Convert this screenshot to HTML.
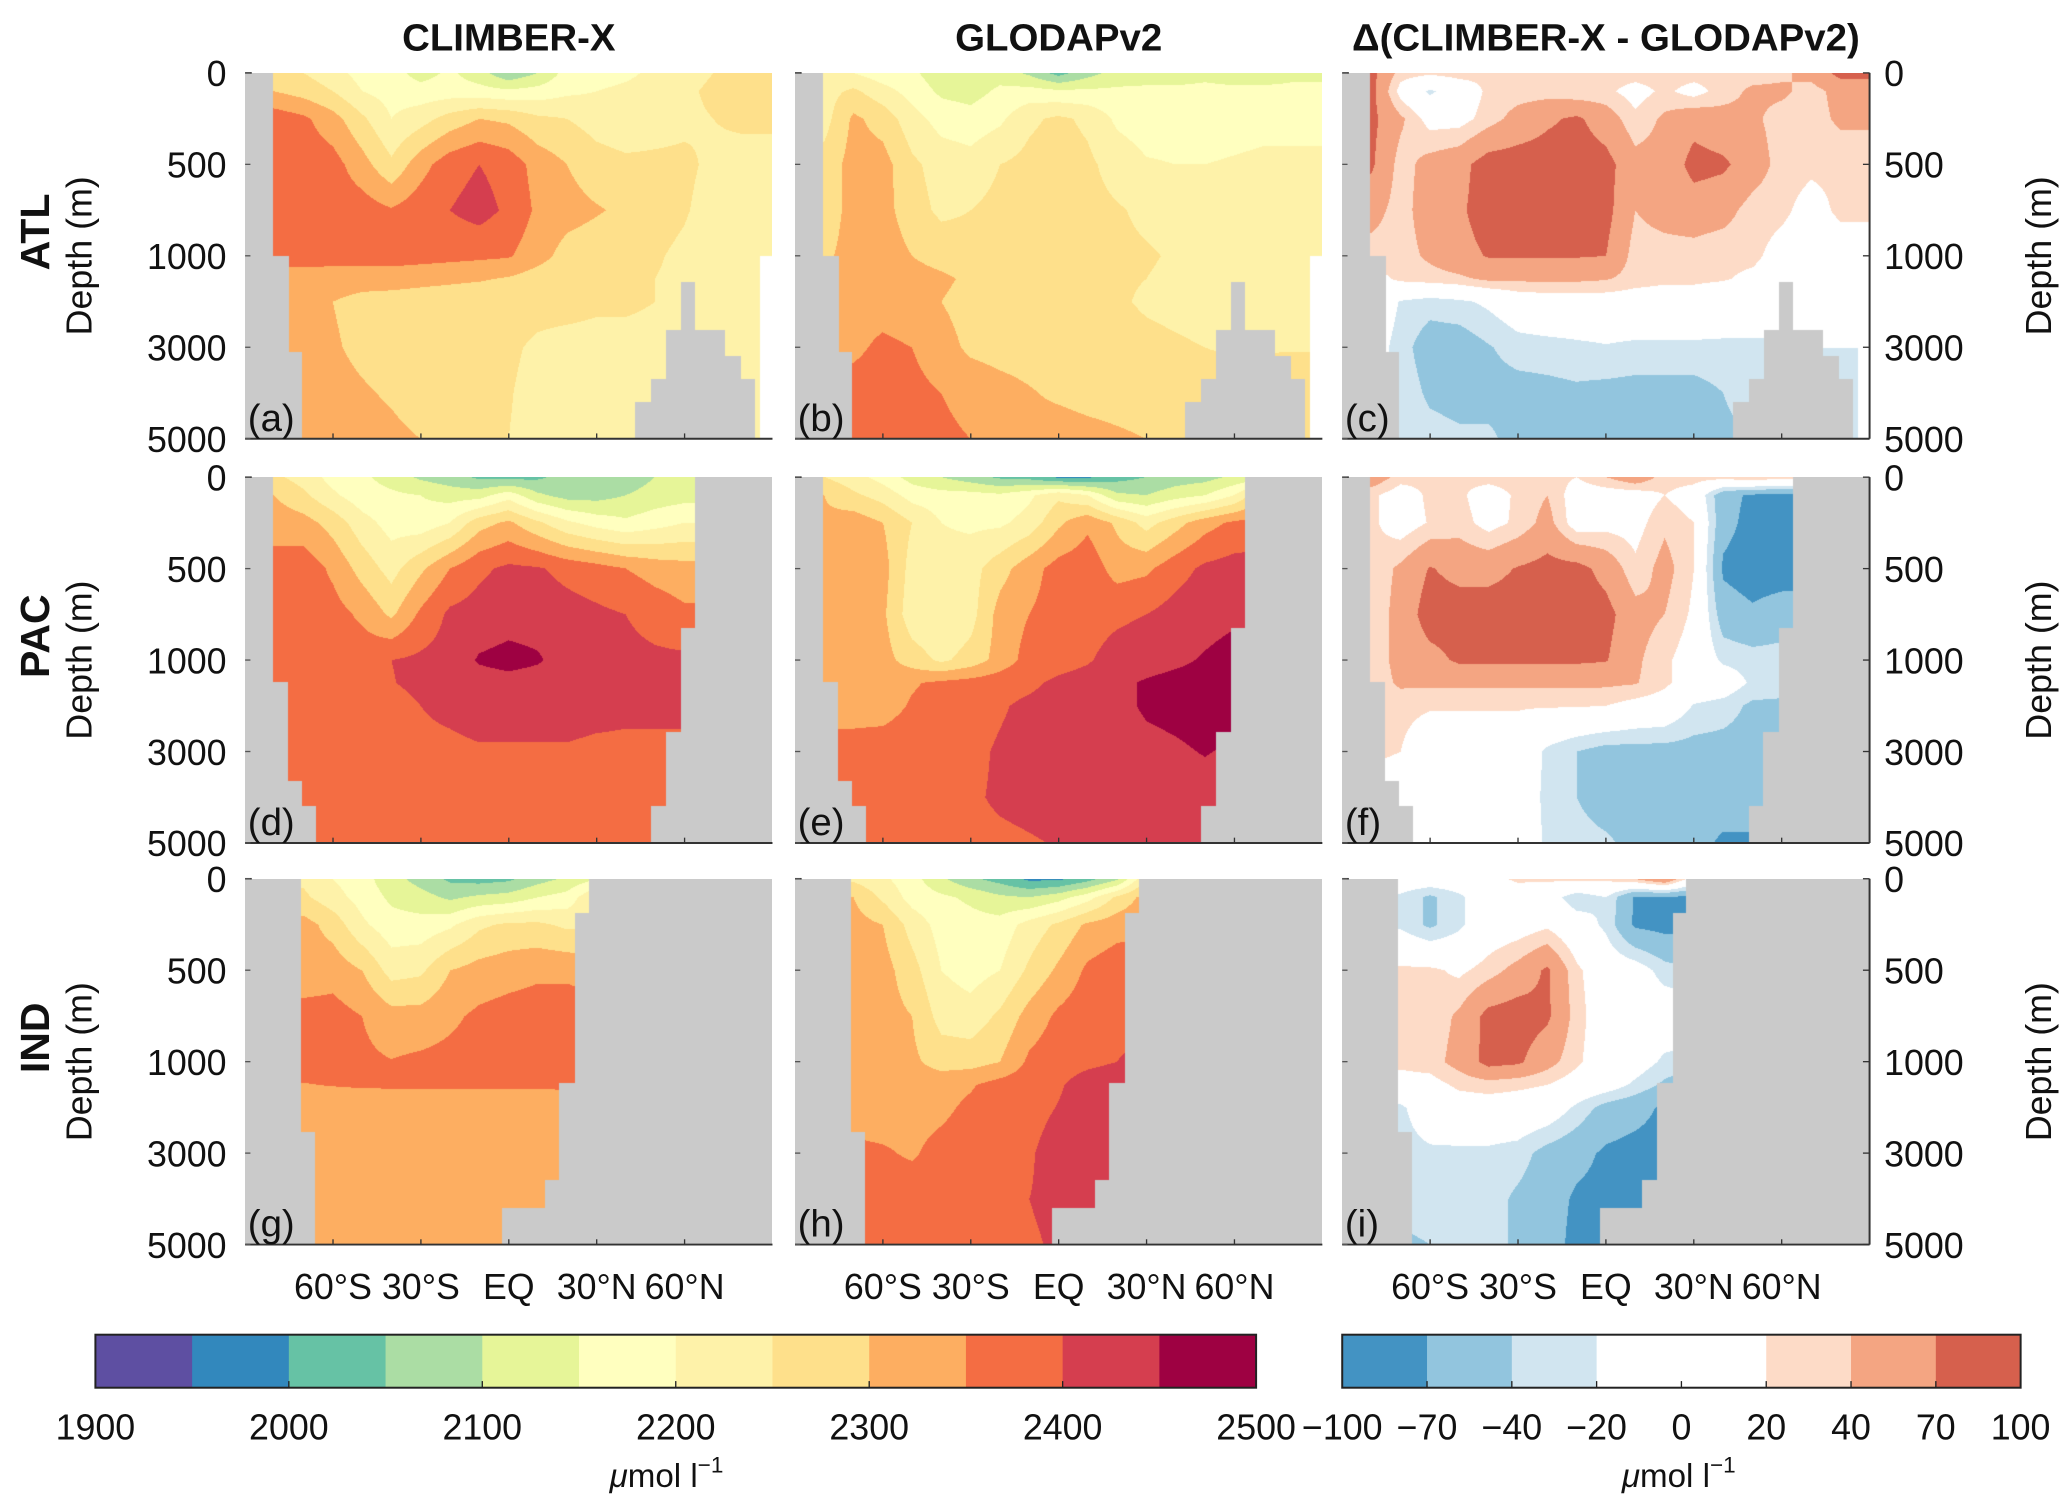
<!DOCTYPE html>
<html><head><meta charset="utf-8">
<style>
html,body{margin:0;padding:0;background:#fff;}
#fig{position:relative;width:2067px;height:1507px;overflow:hidden;background:#fff;}
canvas{position:absolute;}
svg{position:absolute;left:0;top:0;}
text{font-family:"Liberation Sans",sans-serif;fill:#111;}
</style></head>
<body>
<div id="fig">
<svg id="ov" width="2067" height="1507" viewBox="0 0 1560 1137" preserveAspectRatio="none"></svg>
</div>
<script>
// ---------- data ----------
const DEPTHS=[0,100,250,500,750,1000,1500,2000,3000,4000,5000];
const LATS_AP=[-80,-70,-60,-50,-40,-30,-20,-10,0,10,20,30,40,50,60,70,80];
const LATS_IND=[-70,-60,-50,-40,-30,-20,-10,0,10,20,30];
const DEPTH_TICKS=[0,500,1000,3000,5000];
const LAT_TICKS=[-60,-30,0,30,60];
const LAT_LABELS=["60°S","30°S","EQ","30°N","60°N"];
const CB1_BOUNDS=[1900,1950,2000,2050,2100,2150,2200,2250,2300,2350,2400,2450,2500];
const CB1_COLORS=["#5e4fa2","#3288bd","#66c2a5","#abdda4","#e6f598","#ffffbf","#fef2a9","#fee08b","#fdae61","#f46d43","#d53e4f","#9e0142"];
const CB1_LABELS=[1900,2000,2100,2200,2300,2400,2500];
const CB2_BOUNDS=[-100,-70,-40,-20,20,40,70,100];
const CB2_COLORS=["#4393c3","#92c5de","#d1e5f0","#ffffff","#fddbc7","#f4a582","#d6604d"];
const CB2_LABELS=[-100,-70,-40,-20,0,20,40,70,100];

const atlModel=[
[2280,2250,2220,2180,2170,2130,2160,2120,2060,2100,2170,2180,2190,2210,2230,2250,2270],
[2300,2280,2250,2200,2180,2170,2175,2170,2160,2170,2190,2200,2210,2220,2240,2260,2270],
[2380,2360,2320,2260,2200,2230,2270,2300,2290,2260,2250,2230,2220,2230,2240,2250,2260],
[2380,2380,2370,2320,2260,2330,2380,2400,2380,2330,2300,2270,2260,2260,2260,2240,2230],
[2380,2380,2380,2375,2355,2380,2400,2420,2390,2340,2320,2305,2290,2270,2255,2230,2250],
[2370,2370,2370,2375,2375,2370,2365,2360,2355,2320,2280,2270,2260,2255,2240,2220,2220],
[2330,2330,2325,2320,2320,2315,2310,2305,2295,2275,2265,2260,2255,2250,2240,2225,2225],
[2320,2310,2300,2285,2280,2275,2270,2265,2265,2260,2260,2255,2255,2250,2240,2230,2230],
[2320,2315,2305,2290,2280,2275,2270,2260,2255,2245,2240,2240,2240,2240,2240,2240,2240],
[2320,2320,2315,2305,2295,2280,2270,2260,2252,2240,2235,2235,2235,2235,2235,2235,2235],
[2320,2320,2320,2315,2310,2300,2280,2265,2250,2240,2235,2235,2235,2235,2235,2235,2235]];
const atlObs=[
[2220,2200,2170,2160,2120,2110,2130,2090,2030,2080,2120,2130,2130,2140,2130,2110,2130],
[2230,2260,2220,2180,2140,2130,2160,2170,2160,2160,2160,2160,2160,2160,2160,2170,2170],
[2230,2310,2280,2220,2180,2170,2190,2240,2260,2240,2190,2175,2175,2175,2180,2185,2185],
[2270,2320,2320,2260,2230,2220,2250,2265,2275,2260,2230,2205,2200,2200,2205,2210,2210],
[2270,2320,2320,2270,2240,2250,2265,2270,2275,2265,2255,2240,2230,2230,2230,2230,2230],
[2290,2320,2330,2300,2280,2270,2265,2265,2265,2265,2260,2255,2245,2235,2230,2230,2230],
[2310,2330,2330,2320,2310,2290,2270,2265,2260,2255,2255,2250,2240,2235,2230,2230,2230],
[2320,2330,2330,2320,2300,2280,2275,2270,2265,2260,2255,2245,2240,2235,2235,2235,2235],
[2340,2340,2360,2350,2320,2290,2280,2275,2270,2270,2265,2260,2255,2250,2245,2245,2245],
[2350,2370,2375,2365,2350,2335,2320,2305,2290,2280,2275,2270,2270,2270,2275,2280,2300],
[2350,2370,2375,2370,2360,2350,2330,2320,2330,2320,2310,2300,2280,2270,2270,2270,2270]];
const atlDiff=[
[80,30,25,30,25,30,25,30,30,30,30,30,30,30,35,50,80],
[80,10,-25,0,25,30,30,25,25,10,25,10,30,45,45,30,50],
[78,45,10,10,30,50,65,75,55,25,45,60,50,45,30,30,45],
[75,30,50,60,85,85,85,85,80,50,50,80,75,55,30,25,25],
[50,30,55,65,85,85,85,85,80,40,50,55,50,30,25,10,25],
[30,30,45,60,72,72,72,72,70,30,30,30,25,25,10,5,5],
[10,25,30,35,45,45,45,45,42,30,25,25,22,15,5,5,5],
[5,-22,-30,-25,-15,0,5,5,5,5,5,5,0,0,-5,-5,-5],
[-5,-30,-55,-55,-42,-30,-28,-25,-22,-25,-25,-25,-25,-25,-25,-20,-20],
[-10,-25,-45,-50,-50,-50,-48,-45,-48,-50,-50,-50,-40,-30,-30,-25,-25],
[-10,-25,-30,-35,-35,-50,-50,-55,-65,-55,-50,-50,-45,-40,-30,-30,-30]];
const pacModel=[
[2260,2230,2180,2160,2130,2090,2070,2040,2030,2040,2070,2080,2070,2100,2110,2110,2110],
[2300,2260,2210,2170,2160,2150,2130,2130,2180,2110,2080,2080,2100,2120,2130,2130,2130],
[2330,2320,2280,2220,2180,2170,2200,2280,2310,2260,2210,2180,2160,2180,2200,2200,2200],
[2370,2380,2340,2280,2230,2290,2350,2390,2410,2405,2385,2370,2350,2330,2320,2320,2320],
[2380,2380,2370,2340,2290,2360,2410,2420,2430,2430,2420,2410,2400,2380,2360,2360,2360],
[2380,2380,2375,2380,2400,2410,2420,2455,2465,2455,2430,2420,2415,2410,2410,2410,2410],
[2380,2380,2380,2385,2398,2410,2420,2430,2435,2430,2425,2420,2420,2420,2410,2410,2410],
[2370,2370,2375,2380,2385,2400,2410,2420,2420,2420,2420,2415,2410,2410,2410,2410,2410],
[2380,2380,2385,2390,2390,2390,2390,2395,2395,2395,2395,2390,2390,2390,2390,2390,2390],
[2380,2380,2380,2380,2380,2380,2380,2380,2380,2380,2380,2380,2380,2380,2380,2380,2380],
[2380,2380,2380,2380,2380,2380,2380,2380,2380,2380,2380,2380,2380,2380,2380,2380,2380]];
const pacObs=[
[2250,2220,2180,2130,2100,2070,2040,2030,1990,1990,2030,2050,2070,2080,2110,2120,2120],
[2300,2260,2230,2180,2170,2170,2160,2190,2240,2200,2110,2100,2130,2150,2200,2300,2300],
[2310,2330,2300,2250,2200,2190,2190,2220,2290,2340,2290,2230,2280,2330,2360,2370,2370],
[2320,2320,2320,2230,2220,2230,2280,2330,2370,2380,2330,2340,2380,2410,2420,2420,2420],
[2320,2320,2310,2220,2200,2230,2320,2350,2370,2380,2390,2400,2420,2430,2440,2440,2440],
[2320,2320,2320,2275,2240,2270,2320,2370,2380,2395,2420,2430,2440,2455,2470,2470,2470],
[2320,2330,2330,2345,2360,2370,2380,2390,2410,2420,2440,2455,2465,2470,2470,2470,2470],
[2330,2330,2330,2355,2370,2380,2395,2410,2420,2430,2440,2455,2460,2465,2465,2465,2465],
[2370,2370,2375,2380,2385,2390,2405,2415,2420,2425,2430,2440,2445,2452,2445,2445,2445],
[2380,2380,2380,2385,2390,2395,2405,2410,2415,2420,2425,2430,2435,2435,2435,2435,2435],
[2380,2380,2380,2380,2385,2390,2393,2397,2402,2410,2420,2430,2430,2430,2430,2430,2430]];
const pacDiff=[
[60,30,25,25,30,30,30,20,40,60,30,30,30,40,30,30,30],
[25,5,25,25,5,25,40,5,5,5,20,5,-60,-75,-75,-75,-75],
[25,5,22,30,10,25,50,5,10,10,35,20,-60,-80,-80,-80,-80],
[25,45,72,60,60,72,80,80,60,25,50,20,-75,-85,-85,-85,-85],
[25,50,85,85,85,85,85,85,80,50,40,15,-55,-65,-55,-55,-55],
[25,50,60,75,75,75,75,75,72,45,25,5,-25,-30,-30,-30,-30],
[25,45,45,45,45,45,45,45,45,42,25,5,0,-25,-30,-30,-30],
[30,25,22,22,22,22,22,22,20,10,5,-22,-30,-45,-45,-45,-45],
[25,20,5,5,5,5,-25,-40,-50,-50,-50,-50,-50,-50,-50,-50,-50],
[5,5,5,5,5,5,-28,-40,-55,-55,-55,-55,-55,-55,-55,-55,-55],
[5,5,5,5,-10,5,-25,-30,-35,-50,-55,-60,-75,-75,-75,-75,-75]];
const indModel=[
[2240,2200,2170,2120,2080,2040,2030,2040,2080,2110,2150],
[2260,2220,2180,2140,2120,2090,2110,2120,2150,2170,2250],
[2320,2280,2210,2170,2170,2190,2240,2260,2260,2240,2240],
[2320,2330,2300,2230,2240,2300,2320,2330,2340,2340,2330],
[2370,2370,2350,2320,2320,2340,2360,2370,2375,2375,2370],
[2370,2370,2360,2352,2360,2365,2370,2370,2370,2370,2370],
[2348,2352,2355,2356,2356,2357,2357,2357,2357,2358,2358],
[2320,2320,2320,2320,2320,2320,2320,2320,2320,2320,2320],
[2320,2320,2320,2320,2320,2320,2320,2320,2320,2320,2320],
[2320,2320,2320,2320,2320,2320,2320,2320,2320,2320,2320],
[2320,2320,2320,2320,2320,2320,2320,2320,2320,2320,2320]];
const indObs=[
[2240,2210,2170,2110,2060,2030,1990,1990,2030,2090,2250],
[2300,2240,2180,2160,2140,2110,2100,2130,2180,2260,2320],
[2320,2300,2230,2180,2170,2170,2220,2260,2310,2330,2340],
[2320,2320,2270,2200,2180,2200,2260,2310,2360,2380,2380],
[2320,2320,2300,2230,2220,2260,2320,2360,2380,2390,2390],
[2320,2320,2310,2280,2280,2300,2360,2380,2390,2400,2410],
[2330,2330,2330,2330,2345,2370,2380,2395,2420,2430,2430],
[2330,2330,2335,2340,2360,2370,2385,2402,2420,2430,2430],
[2360,2355,2345,2365,2375,2385,2395,2420,2435,2455,2455],
[2370,2370,2375,2380,2385,2390,2400,2410,2420,2420,2420],
[2380,2380,2380,2380,2385,2390,2395,2405,2410,2410,2410]];
const indDiff=[
[0,0,0,10,25,25,25,25,40,70,0],
[-25,-45,-25,0,0,-5,-35,-20,-75,-75,-75],
[-25,-45,-25,0,5,15,-5,-25,-75,-80,-80],
[25,25,15,30,50,75,25,0,-5,-30,-40],
[25,25,45,80,85,75,30,0,0,0,0],
[25,30,50,80,75,50,25,0,-5,-25,-30],
[10,10,25,30,25,20,5,-5,-25,-45,-60],
[-25,0,5,5,5,0,-25,-50,-60,-75,-80],
[-30,-25,-25,-25,-30,-50,-60,-75,-80,-80,-80],
[-30,-30,-28,-30,-45,-55,-75,-80,-80,-80,-80],
[-45,-40,-30,-30,-45,-55,-80,-80,-80,-80,-80]];

// land masks [lat0, lat1, depthTop, depthBottom]
const atlLand=[[-90,-81,0,5000],[-81,-75.5,1000,5000],[-75.5,-71,3100,5000],[43.5,84,4200,5000],[49,84,3700,5000],[54,79,3200,5000],[54,73.5,2620,5000],[59,63.4,1580,5000]];
const atlBlank=[[86,90,1000,5000]];
const pacLand=[[-90,-81,0,5000],[-81,-75.8,1490,5000],[-75.8,-70.7,3650,5000],[-70.7,-66,4200,5000],[63.9,90,0,5000],[59,90,830,5000],[53.8,90,2580,5000],[49,90,4200,5000]];
const indLand=[[-90,-71.5,0,5000],[-71.5,-66.5,2550,5000],[27.5,90,0,5000],[23,90,190,5000],[17.5,90,1480,5000],[12.5,90,3600,5000],[-2,90,4200,5000]];

// ---------- layout (in 1560x1137 figure units) ----------
const SX=2067/1560, SY=1507/1137;
const COLX=[185,600,1013], PW=398, ROWY=[55,360,663], PH=276;
const NS="http://www.w3.org/2000/svg";
const ov=document.getElementById('ov');
const fig=document.getElementById('fig');

function dToU(d){return d<=1000? d/500 : 2+(d-1000)/2000;}
function latToX(lat,x0){return x0+(lat+90)/180*PW;}
function dToY(d,y0){return y0+dToU(d)/4*PH;}
function hex(c){return [parseInt(c.slice(1,3),16),parseInt(c.slice(3,5),16),parseInt(c.slice(5,7),16)];}

function renderPanel(col,row,lats,grid,land,blank,isDiff,name){
  const x0=COLX[col], y0=ROWY[row];
  const cv=document.createElement('canvas');
  
  
  const L=Math.round(x0*SX), T=Math.round(y0*SY);
  const W=Math.round((x0+PW)*SX)-L, H=Math.round((y0+PH)*SY)-T;
  cv.width=W; cv.height=H;
  cv.style.left=L+'px'; cv.style.top=T+'px'; cv.style.width=W+'px'; cv.style.height=H+'px';
  fig.insertBefore(cv, ov);
  const ctx=cv.getContext('2d');
  const img=ctx.createImageData(W,H);
  const bounds=isDiff?CB2_BOUNDS:CB1_BOUNDS, cols=(isDiff?CB2_COLORS:CB1_COLORS).map(hex);
  const du=DEPTHS.map(dToU);
  const nL=lats.length;
  for(let py=0;py<H;py++){
    const u=(py+0.5)/H*4;
    let k=0; while(k<du.length-2 && u>du[k+1]) k++;
    const fy=Math.max(0,Math.min(1,(u-du[k])/(du[k+1]-du[k])));
    for(let px=0;px<W;px++){
      let lat=-90+180*(px+0.5)/W;
      lat=Math.max(lats[0],Math.min(lats[nL-1],lat));
      let j=0; while(j<nL-2 && lat>lats[j+1]) j++;
      const fx=(lat-lats[j])/(lats[j+1]-lats[j]);
      const v=(grid[k][j]*(1-fx)+grid[k][j+1]*fx)*(1-fy)+(grid[k+1][j]*(1-fx)+grid[k+1][j+1]*fx)*fy;
      let ci=cols.length-1;
      if(v<bounds[1]) ci=0; else { for(let i=1;i<cols.length;i++){ if(v<bounds[i+1]){ci=i;break;} } }
      const c=cols[ci]; const o=(py*W+px)*4;
      img.data[o]=c[0];img.data[o+1]=c[1];img.data[o+2]=c[2];img.data[o+3]=255;
    }
  }
  ctx.putImageData(img,0,0);
  const fillRects=(rects,color)=>{
    ctx.fillStyle=color;
    rects.forEach(r=>{
      const a=(r[0]+90)/180*W, b=(r[1]+90)/180*W;
      const t=dToU(r[2])/4*H, bt=dToU(r[3])/4*H;
      ctx.fillRect(Math.floor(a),Math.floor(t),Math.ceil(b-a)+1,Math.ceil(bt-t)+1);
    });
  };
  if(blank) fillRects(blank,'#ffffff');
  fillRects(land,'#cacaca');
}

const panels=[
 [0,0,LATS_AP,atlModel,atlLand,atlBlank,false,'panel-a-atl-climber'],
 [1,0,LATS_AP,atlObs,atlLand,atlBlank,false,'panel-b-atl-glodap'],
 [2,0,LATS_AP,atlDiff,atlLand,atlBlank,true,'panel-c-atl-diff'],
 [0,1,LATS_AP,pacModel,pacLand,null,false,'panel-d-pac-climber'],
 [1,1,LATS_AP,pacObs,pacLand,null,false,'panel-e-pac-glodap'],
 [2,1,LATS_AP,pacDiff,pacLand,null,true,'panel-f-pac-diff'],
 [0,2,LATS_IND,indModel,indLand,null,false,'panel-g-ind-climber'],
 [1,2,LATS_IND,indObs,indLand,null,false,'panel-h-ind-glodap'],
 [2,2,LATS_IND,indDiff,indLand,null,true,'panel-i-ind-diff']];
panels.forEach(p=>renderPanel(...p));

// ---------- SVG overlay ----------
function el(tag,attrs,txt){const e=document.createElementNS(NS,tag);for(const k in attrs)e.setAttribute(k,attrs[k]);if(txt!==undefined)e.textContent=txt;ov.appendChild(e);return e;}
function txt(x,y,s,size,opts){
  return el('text',Object.assign({x:x,y:y,'font-size':size},opts||{}),s);
}

const titles=["CLIMBER-X","GLODAPv2","Δ(CLIMBER-X - GLODAPv2)"];
titles.forEach((t,i)=>{
  const e=txt(COLX[i]+PW/2,38,t,29,{'text-anchor':'middle','font-weight':'bold'});
  
  
});
const basins=["ATL","PAC","IND"];
const letters=[["(a)","(b)","(c)"],["(d)","(e)","(f)"],["(g)","(h)","(i)"]];
for(let r=0;r<3;r++){
  const y0=ROWY[r], cy=y0+PH/2;
  const b=txt(0,0,basins[r],31,{'text-anchor':'middle','font-weight':'bold',transform:`translate(37,${cy-18}) rotate(-90)`});
  
  
  const dl=txt(0,0,"Depth (m)",27,{'text-anchor':'middle',transform:`translate(69,${cy}) rotate(-90)`});
  
  
  const dr=txt(0,0,"Depth (m)",27,{'text-anchor':'middle',transform:`translate(1548,${cy}) rotate(-90)`});
  
  
  DEPTH_TICKS.forEach(d=>{
    const y=dToY(d,y0);
    const t=txt(171,y+10,String(d),27,{'text-anchor':'end'});
    
    
    const t2=txt(1422,y+10,String(d),27,{'text-anchor':'start'});
    
    
  });
  for(let c=0;c<3;c++){
    const x0=COLX[c];
    el('line',{x1:x0,y1:y0+PH,x2:x0+PW,y2:y0+PH,stroke:'#333','stroke-width':1.5,});
    el('line',{x1:x0,y1:y0,x2:x0+5,y2:y0,stroke:'#333','stroke-width':1.2,});
    LAT_TICKS.forEach(l=>{const x=latToX(l,x0);el('line',{x1:x,y1:y0+PH,x2:x,y2:y0+PH-4,stroke:'#333','stroke-width':1,});});
    DEPTH_TICKS.forEach(d=>{const y=dToY(d,y0);el('line',{x1:x0,y1:y,x2:x0+4,y2:y,stroke:'#555','stroke-width':1,});});
    const pl=txt(x0+2,y0+PH-6,letters[r][c],29,{});
    
    
  }
  el('line',{x1:COLX[2]+PW,y1:y0,x2:COLX[2]+PW,y2:y0+PH,stroke:'#333','stroke-width':1.5,});
  DEPTH_TICKS.forEach(d=>{const y=dToY(d,y0);el('line',{x1:COLX[2]+PW,y1:y,x2:COLX[2]+PW-5,y2:y,stroke:'#333','stroke-width':1,});});
}
for(let c=0;c<3;c++){
  LAT_TICKS.forEach((l,i)=>{
    const t=txt(latToX(l,COLX[c]),980,LAT_LABELS[i],27,{'text-anchor':'middle'});
    
    
  });
}
const CB1X=72, CB1W=876, CBY=1007, CBH=40;
const cb1v=v=>CB1X+(v-CB1_BOUNDS[0])/(CB1_BOUNDS[CB1_BOUNDS.length-1]-CB1_BOUNDS[0])*CB1W;
CB1_COLORS.forEach((c,i)=>{
  const x=cb1v(CB1_BOUNDS[i]), w=cb1v(CB1_BOUNDS[i+1])-x;
  el('rect',{x:x,y:CBY,width:w+0.5,height:CBH,fill:c,});
});
el('rect',{x:CB1X,y:CBY,width:CB1W,height:CBH,fill:'none',stroke:'#222','stroke-width':1.5,});
CB1_LABELS.forEach(v=>{
  const x=cb1v(v);
  el('line',{x1:x,y1:CBY+CBH,x2:x,y2:CBY+CBH-5,stroke:'#222','stroke-width':1,});
  const t=txt(x,1086,String(v),27,{'text-anchor':'middle'});
  
  
});
const u1=txt(503,1122,"",25,{'text-anchor':'middle'});
u1.innerHTML='<tspan font-style="italic">μ</tspan>mol l<tspan dy="-11" font-size="17">−1</tspan>';


const CB2X=1013, CB2W=512;
const CB2_POS=[-100,-70,-40,-20,0,20,40,70,100];
const cb2v=v=>{const i=CB2_POS.indexOf(v);if(i>=0)return CB2X+i*CB2W/8;
  for(let k=0;k<8;k++){if(v<=CB2_POS[k+1]){return CB2X+(k+(v-CB2_POS[k])/(CB2_POS[k+1]-CB2_POS[k]))*CB2W/8;}} return CB2X+CB2W;};
CB2_COLORS.forEach((c,i)=>{
  const x=cb2v(CB2_BOUNDS[i]), w=cb2v(CB2_BOUNDS[i+1])-x;
  el('rect',{x:x,y:CBY,width:w+0.5,height:CBH,fill:c,});
});
el('rect',{x:CB2X,y:CBY,width:CB2W,height:CBH,fill:'none',stroke:'#222','stroke-width':1.5,});
CB2_LABELS.forEach(v=>{
  const x=cb2v(v);
  el('line',{x1:x,y1:CBY+CBH,x2:x,y2:CBY+CBH-5,stroke:'#222','stroke-width':1,});
  const t=txt(x,1086,v<0?'−'+Math.abs(v):String(v),27,{'text-anchor':'middle'});
  
  
});
const u2=txt(1267,1122,"",25,{'text-anchor':'middle'});
u2.innerHTML='<tspan font-style="italic">μ</tspan>mol l<tspan dy="-11" font-size="17">−1</tspan>';


</script>
</body></html>
